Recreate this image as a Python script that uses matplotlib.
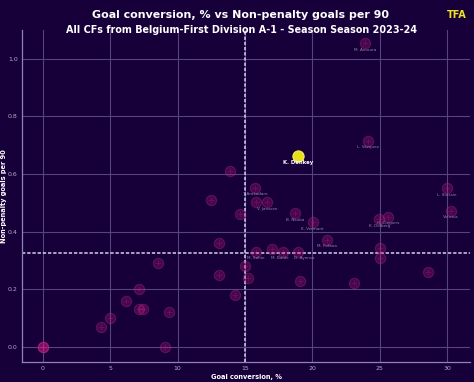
import matplotlib
matplotlib.use("Agg")
import matplotlib.pyplot as plt

# ---- data ----
conv = [0, 0, 0, 4.3, 4.97, 6.14, 7.13, 7.13, 7.4, 9.38, 8.56, 9.06,
        13.04, 15.8, 16.98, 17.84, 18.95, 13.04, 15.0, 15.24, 19.08, 14.28,
        21.06, 13.88, 15.72, 12.5, 15.8, 16.65, 14.6, 18.73, 20.02,
        23.9, 24.15, 30.0, 30.27, 25.63, 24.97, 25.02, 25.02, 28.6, 23.09]
npg90 = [0, 0, 0, 0.07, 0.10, 0.16, 0.20, 0.131, 0.131, 0.12, 0.293, 0.0,
         0.36, 0.331, 0.34, 0.331, 0.331, 0.25, 0.28, 0.24, 0.23, 0.18,
         0.372, 0.61, 0.553, 0.51, 0.502, 0.502, 0.46, 0.464, 0.432,
         1.054, 0.715, 0.551, 0.473, 0.452, 0.443, 0.343, 0.31, 0.26, 0.221]
names = ["", "", "", "", "", "", "", "", "", "", "", "",
         "", "M. Sahin", "", "M. Balde", "D. Ayensa", "", "", "", "", "",
         "M. Fofana", "", "T. Arokodare", "", "", "V. Janssen", "", "B. Nkuba", "K. Vermant",
         "M. Amoura", "L. Vázquez", "L. Stassin", "Vinicius", "H. Cuypers", "K. Dolberg", "", "", "", ""]
hl_name = "K. Denkey"
hl_x, hl_y = 18.93, 0.663
mean_x, mean_y = 15.0, 0.325
xticks = [0, 5, 10, 15, 20, 25, 30]
yticks = [0.0, 0.2, 0.4, 0.6, 0.8, 1.0]

title = "Goal conversion, % vs Non-penalty goals per 90"
subtitle = "All CFs from Belgium-First Division A-1 - Season Season 2023-24"

# label placement tweaks (style only)
label_shift = {"M. Balde": (-2.5, -4.6), "D. Ayensa": (4.0, -4.6)}

BG = "#17003a"
GRID = "#54457e"
TXT = "#b3abc9"

fig = plt.figure(figsize=(4.74, 3.82), dpi=100, facecolor=BG)
ax = fig.add_axes([0.0464, 0.0524, 0.9452, 0.8691], facecolor=BG)

ax.set_xlim(-1.56, 31.7)
ax.set_ylim(-0.052, 1.10)
ax.set_xticks(xticks)
ax.set_yticks(yticks)
ax.set_xticklabels([str(t) for t in xticks])
ax.set_yticklabels([f"{t:.1f}" for t in yticks])
ax.grid(True, color=GRID, lw=0.8, zorder=0)
ax.set_axisbelow(True)
for s in ["top", "right"]:
    ax.spines[s].set_visible(False)
for s in ["left", "bottom"]:
    ax.spines[s].set_color("#8f84b3")
    ax.spines[s].set_linewidth(0.9)
ax.tick_params(colors=TXT, labelsize=4.5, length=0, pad=3)

ax.axvline(mean_x, color="#d8d0ee", lw=1.1, ls=(0, (2.2, 1.2)), zorder=2)
ax.axhline(mean_y, color="#d8d0ee", lw=1.1, ls=(0, (2.2, 1.2)), zorder=2)

ax.scatter(conv, npg90, s=55, facecolor="#b8187a", edgecolor="#c8308a",
           alpha=0.3, lw=0.8, zorder=3)
ax.scatter(conv, npg90, s=22, marker="+", color="#c8308a", alpha=0.25, lw=0.6, zorder=3)

for x, y, n in zip(conv, npg90, names):
    if n:
        off = label_shift.get(n, (0, -4.6))
        ax.annotate(n, (x, y), xytext=off, textcoords="offset points",
                    ha="center", va="center", fontsize=3.0, color="#8e84aa", zorder=4)

ax.scatter([hl_x], [hl_y], s=65, facecolor="#e8e01a", edgecolor="#f5ef60",
           lw=0.8, zorder=5)
ax.annotate(hl_name, (hl_x, hl_y), xytext=(0, -4.8), textcoords="offset points",
            ha="center", va="center", fontsize=3.8, color="white",
            fontweight="bold", zorder=6)

ax.set_xlabel("Goal conversion, %", color="white", fontsize=4.8,
              fontweight="bold", labelpad=2)
ax.set_ylabel("Non-penalty goals per 90", color="white", fontsize=4.8,
              fontweight="bold")
ax.yaxis.set_label_coords(-0.034, 0.5)

fig.text(0.508, 0.962, title, ha="center", va="center", color="white",
         fontsize=7.9, fontweight="bold")
fig.text(0.51, 0.921, subtitle, ha="center", va="center", color="white",
         fontsize=6.9, fontweight="bold")
fig.text(0.963, 0.962, "TFA", ha="center", va="center", color="#f0e020",
         fontsize=7, fontweight="bold")

fig.savefig("out.png", dpi=100, facecolor=BG)
